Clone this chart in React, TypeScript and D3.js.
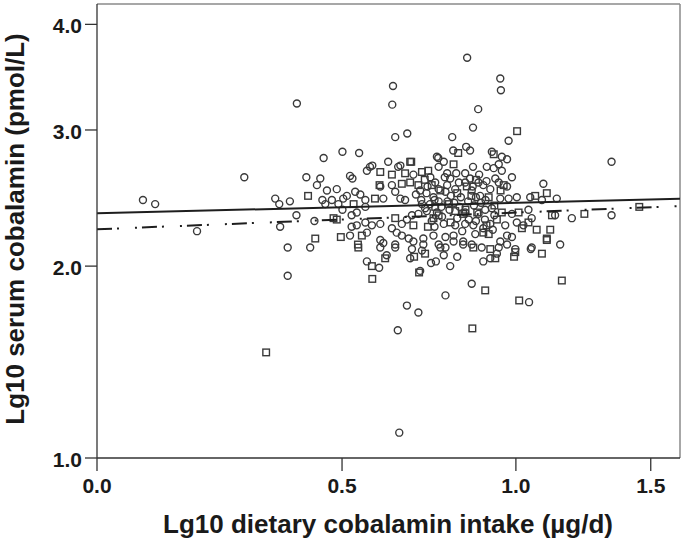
import React from "react";
import * as d3 from "d3";

// Group drawn with circles: [Lg10 dietary cobalamin intake, Lg10 serum cobalamin]
const groupCircles: [number, number][] = [
  [0.079, 2.45], [0.101, 2.42], [0.276, 2.62], [0.18, 2.23], [0.343, 2.46], [0.352, 2.42], [0.376, 2.44], [0.354, 2.26], [0.371, 2.12], [0.371, 1.94],
  [0.392, 3.23], [0.632, 3.39], [0.63, 3.22], [0.845, 3.66], [0.879, 3.18], [0.863, 3.02], [0.638, 2.94], [0.671, 2.97], [0.8, 2.94], [0.455, 2.77],
  [0.501, 2.82], [0.543, 2.81], [0.803, 2.83], [0.842, 2.86], [0.854, 2.83], [0.759, 2.77], [0.619, 2.74], [0.775, 2.74], [0.863, 2.7], [0.571, 2.7],
  [0.646, 2.7], [0.949, 3.46], [0.951, 3.35], [0.976, 2.91],
  [0.414, 2.62], [0.447, 2.61], [0.439, 2.56], [0.52, 2.63], [0.526, 2.61], [0.563, 2.67], [0.577, 2.71], [0.652, 2.71], [0.688, 2.64], [0.755, 2.78],
  [0.76, 2.7], [0.463, 2.52], [0.487, 2.53], [0.512, 2.48], [0.533, 2.51], [0.546, 2.49], [0.598, 2.55], [0.629, 2.56], [0.707, 2.52],
  [0.452, 2.45], [0.475, 2.45], [0.503, 2.46], [0.459, 2.42], [0.491, 2.42], [0.501, 2.38], [0.559, 2.45], [0.559, 2.4], [0.606, 2.46], [0.638, 2.51],
  [0.652, 2.46], [0.665, 2.45],
  [0.391, 2.34], [0.433, 2.3], [0.537, 2.36], [0.524, 2.34], [0.559, 2.29], [0.576, 2.27], [0.524, 2.26], [0.537, 2.27], [0.598, 2.28], [0.629, 2.25],
  [0.642, 2.22], [0.656, 2.28], [0.67, 2.31], [0.684, 2.34], [0.702, 2.35], [0.721, 2.39],
  [0.52, 2.2], [0.563, 2.22], [0.598, 2.17], [0.606, 2.15], [0.638, 2.14], [0.656, 2.2], [0.675, 2.18], [0.688, 2.16], [0.716, 2.14], [0.716, 2.18],
  [0.745, 2.2], [0.76, 2.14], [0.423, 2.12],
  [0.736, 2.62], [0.75, 2.58], [0.725, 2.5], [0.745, 2.47], [0.76, 2.44], [0.735, 2.42], [0.755, 2.36], [0.77, 2.33], [0.74, 2.3], [0.71, 2.45],
  [0.695, 2.49], [0.76, 2.53], [0.728, 2.55],
  [0.922, 2.82], [0.954, 2.78], [0.971, 2.76], [0.906, 2.7], [0.928, 2.69], [0.944, 2.72], [0.954, 2.67], [0.987, 2.62], [0.839, 2.65], [0.854, 2.61],
  [0.785, 2.65], [0.794, 2.61], [0.785, 2.56], [0.839, 2.58], [0.88, 2.58], [0.895, 2.56], [0.933, 2.61], [0.944, 2.58], [0.971, 2.55], [1.093, 2.57],
  [1.343, 2.74],
  [0.78, 2.51], [0.809, 2.53], [0.859, 2.52], [0.885, 2.48], [0.917, 2.53], [0.949, 2.46], [0.976, 2.46], [1.003, 2.47], [1.048, 2.47], [1.088, 2.45],
  [1.14, 2.46],
  [0.839, 2.36], [0.88, 2.35], [0.901, 2.38], [0.922, 2.39], [0.987, 2.35], [1.042, 2.38], [1.134, 2.34], [1.194, 2.32], [1.343, 2.34],
  [0.775, 2.28], [0.809, 2.27], [0.839, 2.28], [0.864, 2.27], [0.895, 2.25], [0.917, 2.28], [0.965, 2.27], [1.003, 2.29], [1.025, 2.27], [1.053, 2.32],
  [0.971, 2.2], [0.987, 2.19], [1.152, 2.14], [0.78, 2.19], [0.804, 2.2], [0.833, 2.16], [0.804, 2.16], [0.859, 2.14], [0.949, 2.16], [0.971, 2.14],
  [0.998, 2.11], [1.053, 2.12],
  [0.563, 2.03], [0.595, 1.99], [0.615, 2.07], [0.679, 2.05], [0.707, 1.97], [0.738, 2.02], [0.752, 2.03], [0.67, 1.76], [0.702, 1.72], [0.645, 1.62],
  [0.78, 1.82], [0.765, 2.12], [0.598, 2.12], [0.638, 2.12], [0.684, 2.11], [0.712, 2.1],
  [0.78, 2.12], [0.833, 2.14], [0.89, 2.12], [0.944, 2.12], [0.775, 2.07], [0.815, 2.06], [0.794, 2.0], [0.895, 2.03], [0.917, 2.05], [0.938, 2.08],
  [1.05, 2.11], [0.859, 1.89], [1.044, 1.78],
  [0.649, 1.11],
  [0.712, 2.42], [0.726, 2.37], [0.748, 2.45], [0.768, 2.4], [0.786, 2.44], [0.792, 2.38], [0.806, 2.43], [0.822, 2.4], [0.826, 2.47], [0.848, 2.44],
  [0.866, 2.41], [0.872, 2.47], [0.888, 2.43], [0.902, 2.45], [0.815, 2.32], [0.85, 2.31], [0.872, 2.3], [0.9, 2.31], [0.93, 2.34], [0.796, 2.48],
  [0.82, 2.58], [0.862, 2.55], [0.905, 2.59], [0.778, 2.62], [0.812, 2.65], [0.882, 2.64], [0.748, 2.26], [0.83, 2.23], [0.87, 2.21], [0.925, 2.24],
];

// Group drawn with squares
const groupSquares: [number, number][] = [
  [0.818, 2.81], [0.682, 2.74], [0.804, 2.72], [1.004, 2.99],
  [0.629, 2.64], [0.598, 2.66], [0.679, 2.74], [0.665, 2.65], [0.712, 2.66], [0.73, 2.67], [0.418, 2.48], [0.596, 2.56], [0.656, 2.57], [0.679, 2.58],
  [0.702, 2.56], [0.529, 2.42], [0.584, 2.46], [0.479, 2.32], [0.487, 2.31], [0.638, 2.32], [0.688, 2.27], [0.729, 2.26], [0.497, 2.19], [0.55, 2.2],
  [0.435, 2.18], [0.54, 2.14],
  [0.75, 2.4], [0.765, 2.52], [0.72, 2.6], [0.745, 2.32],
  [0.928, 2.8], [0.844, 2.55], [0.96, 2.56], [0.912, 2.47], [1.065, 2.48], [1.105, 2.5], [0.809, 2.37], [0.833, 2.35], [0.954, 2.36], [1.009, 2.36],
  [1.123, 2.34], [1.24, 2.35], [0.938, 2.31], [1.042, 2.29], [0.895, 2.22], [0.912, 2.21], [1.02, 2.25], [1.07, 2.24], [1.117, 2.24], [1.105, 2.17],
  [1.105, 2.18],
  [0.541, 2.12], [0.576, 2.0], [0.577, 1.92], [0.611, 2.05], [0.69, 2.06], [0.721, 2.08], [0.704, 1.96],
  [0.864, 2.12], [0.917, 2.11], [0.933, 2.05], [0.998, 2.09], [0.994, 2.06], [1.088, 2.08], [1.158, 1.91], [0.901, 1.85], [1.011, 1.79], [0.861, 1.63],
  [1.453, 2.4],
  [0.323, 1.5],
  [0.79, 2.42], [0.84, 2.38], [0.876, 2.36], [0.76, 2.34], [0.815, 2.5], [0.858, 2.48], [0.93, 2.41], [0.905, 2.27], [0.795, 2.29], [0.74, 2.56],
  [0.872, 2.6], [0.95, 2.52],
];

// Fit lines (endpoints at the x-axis limits)
const fitX = [0, 1.624];
const fitSolidY = [2.354, 2.459];
const fitDashY = [2.243, 2.406];

const xTicks = [0, 0.5, 1.0, 1.5];
const yTicks = [1.0, 2.0, 3.0, 4.0];
const X_MIN = 0;
const X_MAX = 1.624;
const Y_MIN = 1.0;
const Y_MAX = 4.22;

const W = 685;
const H = 541;
const L = 97;
const R = 680;
const T = 4;
const B = 458;

export default function App() {
  const xLog = d3.scaleLog().domain([1 + X_MIN, 1 + X_MAX]).range([L, R]);
  const yLog = d3.scaleLog().domain([1 + Y_MIN, 1 + Y_MAX]).range([B, T]);
  const x = (v: number) => xLog(1 + v);
  const y = (v: number) => yLog(1 + v);

  const line = d3
    .line<[number, number]>()
    .x((d) => x(d[0]))
    .y((d) => y(d[1]));

  const solidPts: [number, number][] = fitX.map((v, i) => [v, fitSolidY[i]]);
  const dashPts: [number, number][] = fitX.map((v, i) => [v, fitDashY[i]]);

  const font = "'Liberation Sans', Arial, sans-serif";
  const mark = "#3a3a3a";

  return (
    <svg
      width={W}
      height={H}
      style={{ position: "absolute", left: 0, top: 0, background: "#fff" }}
      fontFamily={font}
    >
      <rect x={0} y={0} width={W} height={H} fill="#fff" />
      {/* frame */}
      <line x1={L} y1={T} x2={R} y2={T} stroke="#8a8a8a" strokeWidth={1.5} />
      <line x1={R} y1={T} x2={R} y2={B} stroke="#8a8a8a" strokeWidth={1.5} />

      {/* points */}
      <g fill="none" stroke={mark} strokeWidth={1.4}>
        {groupCircles.map((d, i) => (
          <circle key={"c" + i} cx={x(d[0])} cy={y(d[1])} r={3.5} />
        ))}
        {groupSquares.map((d, i) => (
          <rect key={"s" + i} x={x(d[0]) - 3.3} y={y(d[1]) - 3.3} width={6.6} height={6.6} />
        ))}
      </g>

      {/* fit lines */}
      <path d={line(solidPts) || ""} fill="none" stroke="#1e1e1e" strokeWidth={2} />
      <path
        d={line(dashPts) || ""}
        fill="none"
        stroke="#1e1e1e"
        strokeWidth={2}
        strokeDasharray="15,5,2,16,2,5"
      />

      {/* axes */}
      <line x1={L} y1={T} x2={L} y2={B} stroke="#333" strokeWidth={1.3} />
      <line x1={L} y1={B} x2={R} y2={B} stroke="#333" strokeWidth={1.3} />
      {yTicks.map((t) => (
        <g key={"yt" + t}>
          <line x1={L - 12} x2={L} y1={y(t)} y2={y(t)} stroke="#333" strokeWidth={1.3} />
          <text
            x={L - 15}
            y={y(t) + 9}
            textAnchor="end"
            fontSize={21}
            fontWeight="bold"
            fill="#1a1a1a"
          >
            {t.toFixed(1)}
          </text>
        </g>
      ))}
      {xTicks.map((t) => (
        <g key={"xt" + t}>
          <line x1={x(t)} x2={x(t)} y1={B} y2={B + 13} stroke="#333" strokeWidth={1.3} />
          <text
            x={x(t)}
            y={493}
            textAnchor="middle"
            fontSize={21}
            fontWeight="bold"
            fill="#1a1a1a"
          >
            {t.toFixed(1)}
          </text>
        </g>
      ))}

      <text x={388} y={533} textAnchor="middle" fontSize={26} fontWeight="bold" fill="#1a1a1a">
        Lg10 dietary cobalamin intake (µg/d)
      </text>
      <text
        transform={`translate(24,229) rotate(-90)`}
        textAnchor="middle"
        fontSize={26}
        fontWeight="bold"
        fill="#1a1a1a"
      >
        Lg10 serum cobalamin (pmol/L)
      </text>
    </svg>
  );
}
